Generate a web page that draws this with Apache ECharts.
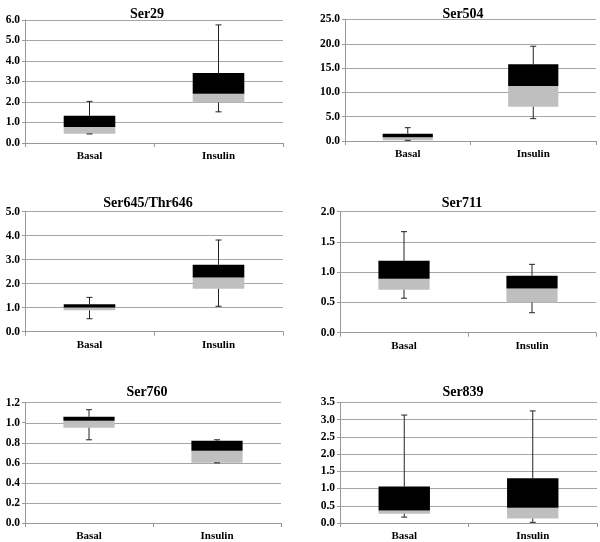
<!DOCTYPE html>
<html>
<head>
<meta charset="utf-8">
<script src="https://cdn.jsdelivr.net/npm/echarts@6/dist/echarts.min.js"></script>
<style>
html,body{margin:0;padding:0;background:#fff;}
#chart{width:600px;height:542px;}
</style>
</head>
<body>
<div id="chart"></div>
<script>
// Categories
var categories = ['Basal', 'Insulin'];
// Each array: [whisker low, Q1, median, Q3, whisker high]
var ser29Basal = [0.44, 0.45, 0.78, 1.33, 2.03];
var ser29Insulin = [1.52, 1.98, 2.40, 3.41, 5.76];
var ser504Basal = [0.14, 0.14, 0.75, 1.50, 2.74];
var ser504Insulin = [4.6, 7.05, 11.3, 15.8, 19.5];
var ser645Basal = [0.54, 0.89, 1.01, 1.14, 1.43];
var ser645Insulin = [1.06, 1.79, 2.26, 2.79, 3.82];
var ser711Basal = [0.57, 0.71, 0.89, 1.19, 1.67];
var ser711Insulin = [0.33, 0.50, 0.73, 0.94, 1.13];
var ser760Basal = [0.83, 0.95, 1.02, 1.06, 1.13];
var ser760Insulin = [0.60, 0.60, 0.72, 0.82, 0.83];
var ser839Basal = [0.17, 0.27, 0.36, 1.06, 3.13];
var ser839Insulin = [0.02, 0.13, 0.44, 1.30, 3.25];

var titles = ['Ser29', 'Ser504', 'Ser645/Thr646', 'Ser711', 'Ser760', 'Ser839'];
var yMax = [6, 25, 5, 2, 1.2, 3.5];
var yStep = [1, 5, 1, 0.5, 0.2, 0.5];
var panelData = [
  [ser29Basal, ser29Insulin],
  [ser504Basal, ser504Insulin],
  [ser645Basal, ser645Insulin],
  [ser711Basal, ser711Insulin],
  [ser760Basal, ser760Insulin],
  [ser839Basal, ser839Insulin]
];

var layout = [
  {left: 25, top: 20, width: 258, height: 123, tx: 142, ty: 2},
  {left: 345, top: 19.5, width: 251, height: 121.5, tx: 458, ty: 2},
  {left: 25, top: 211.7, width: 258, height: 120, tx: 143, ty: 191},
  {left: 340, top: 211.7, width: 256, height: 121, tx: 457, ty: 191},
  {left: 25, top: 402.7, width: 256, height: 121.6, tx: 142, ty: 380},
  {left: 340, top: 402.3, width: 257, height: 121, tx: 458, ty: 380}
];

var serif = '"Liberation Serif", "Times New Roman", "DejaVu Serif", serif';
var grids = [], xAxes = [], yAxes = [], series = [], titleOpts = [];

function renderBox(params, api) {
  var idx = api.value(0);
  var lo = api.coord([idx, api.value(1)]);
  var q1 = api.coord([idx, api.value(2)]);
  var md = api.coord([idx, api.value(3)]);
  var q3 = api.coord([idx, api.value(4)]);
  var hi = api.coord([idx, api.value(5)]);
  var bw = api.size([1, 0])[0] * 0.4;
  var cx = lo[0];
  var x0 = cx - bw / 2;
  var cap = 3;
  var lineStyle = {stroke: '#222', lineWidth: 1};
  return {
    type: 'group',
    children: [
      {type: 'rect', shape: {x: x0, y: md[1], width: bw, height: q1[1] - md[1]}, style: {fill: '#bfbfbf'}},
      {type: 'rect', shape: {x: x0, y: q3[1], width: bw, height: md[1] - q3[1]}, style: {fill: '#000'}},
      {type: 'line', shape: {x1: cx, y1: q3[1], x2: cx, y2: hi[1]}, style: lineStyle},
      {type: 'line', shape: {x1: cx - cap, y1: hi[1], x2: cx + cap, y2: hi[1]}, style: lineStyle},
      {type: 'line', shape: {x1: cx, y1: q1[1], x2: cx, y2: lo[1]}, style: lineStyle},
      {type: 'line', shape: {x1: cx - cap, y1: lo[1], x2: cx + cap, y2: lo[1]}, style: lineStyle}
    ]
  };
}

for (var i = 0; i < 6; i++) {
  var L = layout[i];
  grids.push({left: L.left, top: L.top, width: L.width, height: L.height});
  titleOpts.push({
    text: titles[i], left: L.tx, top: L.ty, textAlign: 'center',
    textStyle: {fontFamily: serif, fontWeight: 'bold', fontSize: 14, color: '#000'}
  });
  xAxes.push({
    type: 'category', gridIndex: i, data: categories,
    axisLine: {lineStyle: {color: '#999', width: 1}},
    axisTick: {show: true, length: 4, lineStyle: {color: '#999'}},
    axisLabel: {fontFamily: serif, fontWeight: 'bold', fontSize: 11, color: '#000', margin: 8}
  });
  yAxes.push({
    type: 'value', gridIndex: i, min: 0, max: yMax[i], interval: yStep[i],
    axisLine: {show: true, lineStyle: {color: '#999', width: 1}},
    axisTick: {show: true, length: 3, lineStyle: {color: '#999'}},
    splitLine: {show: true, lineStyle: {color: '#a6a6a6', width: 1}},
    axisLabel: {fontFamily: serif, fontWeight: 'bold', fontSize: 11.5, color: '#000', margin: 5,
      formatter: function (v) { return v.toFixed(1); }}
  });
  var d = panelData[i].map(function (arr, k) { return [k].concat(arr); });
  series.push({
    type: 'custom', xAxisIndex: i, yAxisIndex: i,
    renderItem: renderBox,
    encode: {x: 0, y: [1, 2, 3, 4, 5]},
    data: d, z: 5
  });
}

var chart = echarts.init(document.getElementById('chart'));
chart.setOption({
  animation: false,
  backgroundColor: '#fff',
  title: titleOpts,
  grid: grids,
  xAxis: xAxes,
  yAxis: yAxes,
  series: series
});
</script>
</body>
</html>
